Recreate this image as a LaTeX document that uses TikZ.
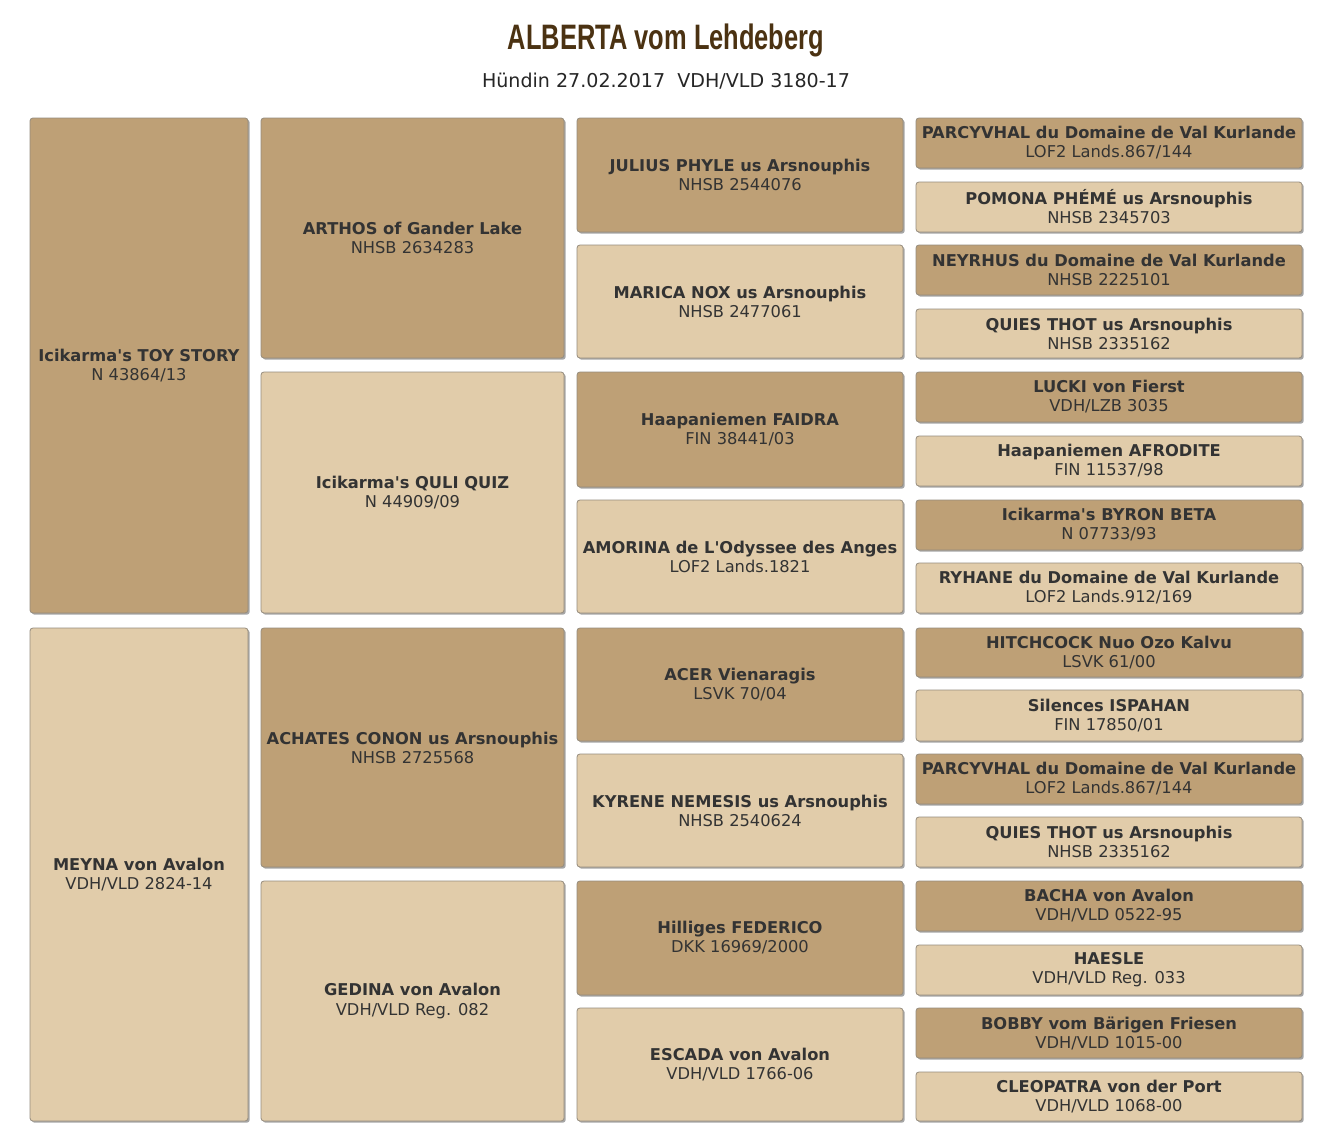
\documentclass[tikz,border=0pt]{standalone}
\usepackage{fontspec}
\setmainfont{DejaVu Sans}
\newfontfamily\titlefont[FakeStretch=0.72]{Liberation Sans}
\usetikzlibrary{shadows}
\definecolor{darkbox}{RGB}{190,160,118}
\definecolor{lightbox}{RGB}{225,204,170}
\definecolor{boxborder}{RGB}{150,140,125}
\definecolor{txt}{RGB}{51,51,51}
\definecolor{titlebrown}{RGB}{75,50,18}
\tikzset{
  pedbox/.style={rectangle, rounded corners=2.2pt, draw=boxborder, line width=0.6pt,
    inner sep=0pt, align=center, text=txt,
    font=\fontsize{12.2pt}{14.3pt}\selectfont,
    drop shadow={shadow xshift=1.3pt, shadow yshift=-1.3pt, fill=black, opacity=0.35}},
  darkp/.style={pedbox, fill=darkbox},
  lightp/.style={pedbox, fill=lightbox}
}
\newcommand\pedbox[8]{%
  \node[#2, minimum width={(#5-#3)*0.75pt}, minimum height={(#6-#4)*0.75pt}]
    (#1) at ({(#3+#5)/2},{(#4+#6)/2}) {\textbf{#7}\\#8};}
\newcommand\ap{\textquotesingle}
\begin{document}
\begin{tikzpicture}[x=0.75pt,y=-0.75pt]
\useasboundingbox[fill=white] (0,0) rectangle (1336,1135);
\node[font=\titlefont\bfseries\fontsize{26.5pt}{30pt}\selectfont, text=titlebrown, anchor=base] (title) at (666,49) {ALBERTA vom Lehdeberg};
\node[font=\fontsize{14.3pt}{16pt}\selectfont, text=black!85, anchor=base] (sub) at (666,87) {Hündin 27.02.2017\ \ VDH/VLD 3180-17};
% column 1
\pedbox{a1}{darkp}{30}{118}{248}{613}{Icikarma\ap s TOY STORY}{N 43864/13}
\pedbox{a2}{lightp}{30}{628}{248}{1121}{MEYNA von Avalon}{VDH/VLD 2824-14}
% column 2
\pedbox{b1}{darkp}{261}{118}{564}{358}{ARTHOS of Gander Lake}{NHSB 2634283}
\pedbox{b2}{lightp}{261}{372}{564}{613}{Icikarma\ap s QULI QUIZ}{N 44909/09}
\pedbox{b3}{darkp}{261}{628}{564}{867}{ACHATES CONON us Arsnouphis}{NHSB 2725568}
\pedbox{b4}{lightp}{261}{881}{564}{1121}{GEDINA von Avalon}{VDH/VLD Reg. 082}
% column 3
\pedbox{c1}{darkp}{577}{118}{903}{232}{JULIUS PHYLE us Arsnouphis}{NHSB 2544076}
\pedbox{c2}{lightp}{577}{245}{903}{358}{MARICA NOX us Arsnouphis}{NHSB 2477061}
\pedbox{c3}{darkp}{577}{372}{903}{487}{Haapaniemen FAIDRA}{FIN 38441/03}
\pedbox{c4}{lightp}{577}{500}{903}{613}{AMORINA de L\ap Odyssee des Anges}{LOF2 Lands.1821}
\pedbox{c5}{darkp}{577}{628}{903}{741}{ACER Vienaragis}{LSVK 70/04}
\pedbox{c6}{lightp}{577}{754}{903}{867}{KYRENE NEMESIS us Arsnouphis}{NHSB 2540624}
\pedbox{c7}{darkp}{577}{881}{903}{995}{Hilliges FEDERICO}{DKK 16969/2000}
\pedbox{c8}{lightp}{577}{1008}{903}{1121}{ESCADA von Avalon}{VDH/VLD 1766-06}
% column 4
\pedbox{d1}{darkp}{916}{118}{1302}{168}{PARCYVHAL du Domaine de Val Kurlande}{LOF2 Lands.867/144}
\pedbox{d2}{lightp}{916}{182}{1302}{232}{POMONA PHÉMÉ us Arsnouphis}{NHSB 2345703}
\pedbox{d3}{darkp}{916}{245}{1302}{295}{NEYRHUS du Domaine de Val Kurlande}{NHSB 2225101}
\pedbox{d4}{lightp}{916}{309}{1302}{358}{QUIES THOT us Arsnouphis}{NHSB 2335162}
\pedbox{d5}{darkp}{916}{372}{1302}{422}{LUCKI von Fierst}{VDH/LZB 3035}
\pedbox{d6}{lightp}{916}{436}{1302}{486}{Haapaniemen AFRODITE}{FIN 11537/98}
\pedbox{d7}{darkp}{916}{500}{1302}{550}{Icikarma\ap s BYRON BETA}{N 07733/93}
\pedbox{d8}{lightp}{916}{563}{1302}{613}{RYHANE du Domaine de Val Kurlande}{LOF2 Lands.912/169}
\pedbox{d9}{darkp}{916}{628}{1302}{677}{HITCHCOCK Nuo Ozo Kalvu}{LSVK 61/00}
\pedbox{d10}{lightp}{916}{690}{1302}{741}{Silences ISPAHAN}{FIN 17850/01}
\pedbox{d11}{darkp}{916}{754}{1302}{804}{PARCYVHAL du Domaine de Val Kurlande}{LOF2 Lands.867/144}
\pedbox{d12}{lightp}{916}{817}{1302}{867}{QUIES THOT us Arsnouphis}{NHSB 2335162}
\pedbox{d13}{darkp}{916}{881}{1302}{931}{BACHA von Avalon}{VDH/VLD 0522-95}
\pedbox{d14}{lightp}{916}{945}{1302}{995}{HAESLE}{VDH/VLD Reg. 033}
\pedbox{d15}{darkp}{916}{1008}{1302}{1058}{BOBBY vom Bärigen Friesen}{VDH/VLD 1015-00}
\pedbox{d16}{lightp}{916}{1072}{1302}{1121}{CLEOPATRA von der Port}{VDH/VLD 1068-00}
\end{tikzpicture}
\end{document}
